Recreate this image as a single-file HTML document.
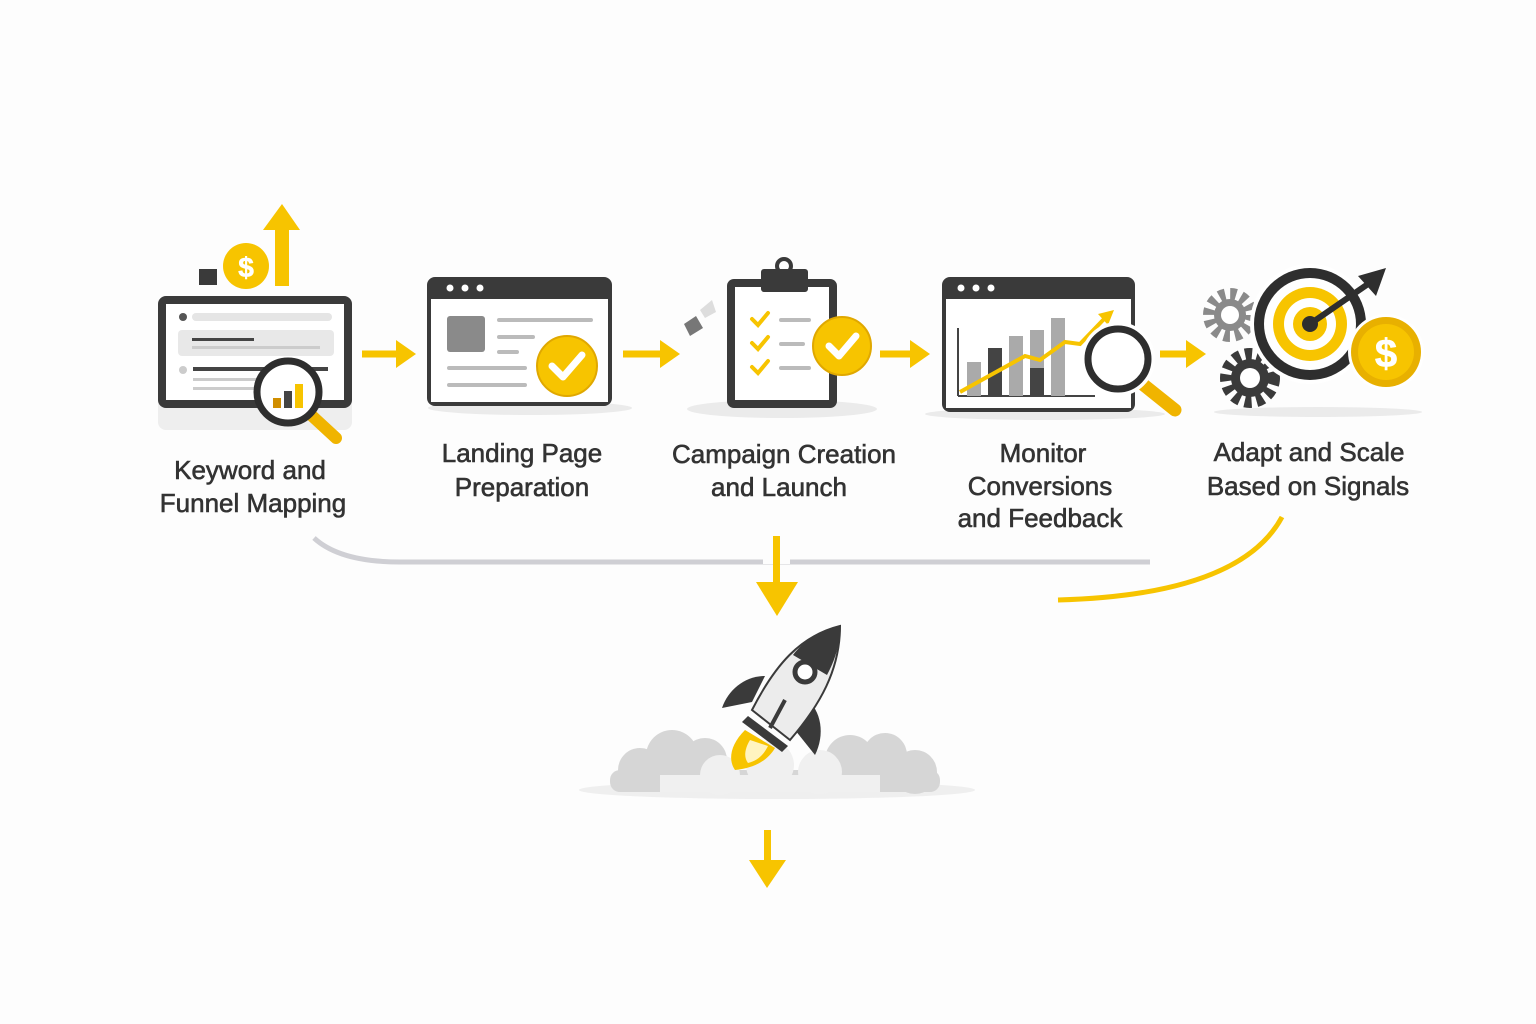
<!DOCTYPE html>
<html><head><meta charset="utf-8"><style>
html,body{margin:0;padding:0;background:#fdfdfd;}
svg{display:block}
text{font-family:"Liberation Sans",sans-serif;font-size:26px;fill:#333;stroke:#333;stroke-width:0.6px;text-anchor:middle}
</style></head><body>
<svg width="1536" height="1024" viewBox="0 0 1536 1024" xmlns="http://www.w3.org/2000/svg">
<rect width="1536" height="1024" fill="#fdfdfd"/>

<!-- Step 1 -->
<rect x="199" y="269" width="18" height="16" fill="#3a3a3a"/>
<circle cx="246" cy="266" r="23" fill="#f7c400"/>
<text x="246" y="277" style="font-size:28px;fill:#fff;stroke:#fff;font-weight:bold">$</text>
<rect x="275" y="228" width="14" height="58" fill="#f7c400"/>
<path d="M263,230 L282,204 L300,230Z" fill="#f7c400"/>
<rect x="158" y="296" width="194" height="134" rx="8" fill="#eee" />
<rect x="158" y="296" width="194" height="112" rx="8" fill="#3a3a3a"/>
<rect x="166" y="304" width="178" height="96" fill="#fff"/>
<circle cx="183" cy="317" r="4" fill="#555"/>
<rect x="192" y="313" width="140" height="8" rx="4" fill="#e5e5e5"/>
<rect x="178" y="330" width="156" height="26" rx="4" fill="#e8e8e8"/>
<rect x="192" y="338" width="62" height="3" fill="#444"/>
<rect x="192" y="346" width="128" height="3" fill="#ccc"/>
<circle cx="183" cy="370" r="4" fill="#ccc"/>
<rect x="193" y="367" width="135" height="4" fill="#444"/>
<rect x="193" y="378" width="110" height="3" fill="#ccc"/>
<rect x="193" y="387" width="110" height="3" fill="#ccc"/>
<line x1="310" y1="414" x2="336" y2="438" stroke="#f0b400" stroke-width="12" stroke-linecap="round"/>
<circle cx="288" cy="392" r="31" fill="#fff" stroke="#2e2e2e" stroke-width="7"/>
<rect x="273" y="398" width="8" height="10" fill="#d08e00"/><rect x="284" y="391" width="8" height="17" fill="#444"/><rect x="295" y="384" width="8" height="24" fill="#f7c400"/>

<!-- arrows -->
<g stroke="#f7c400" stroke-width="7" fill="#f7c400">
<line x1="362" y1="354" x2="398" y2="354"/><path d="M396,340 L416,354 L396,368Z" stroke="none"/>
<line x1="623" y1="354" x2="662" y2="354"/><path d="M660,340 L680,354 L660,368Z" stroke="none"/>
<line x1="880" y1="354" x2="912" y2="354"/><path d="M910,340 L930,354 L910,368Z" stroke="none"/>
<line x1="1160" y1="354" x2="1188" y2="354"/><path d="M1186,340 L1206,354 L1186,368Z" stroke="none"/>
</g>

<!-- Step 2 -->
<ellipse cx="530" cy="408" rx="102" ry="7" fill="#ebebeb"/>
<rect x="427" y="277" width="185" height="129" rx="8" fill="#3a3a3a"/>
<rect x="431" y="299" width="177" height="103" fill="#fff"/>
<circle cx="450" cy="288" r="3.5" fill="#fff"/><circle cx="465" cy="288" r="3.5" fill="#fff"/><circle cx="480" cy="288" r="3.5" fill="#fff"/>
<rect x="447" y="316" width="38" height="36" rx="3" fill="#8a8a8a"/>
<rect x="497" y="318" width="96" height="4" rx="2" fill="#bbb"/>
<rect x="497" y="335" width="38" height="4" rx="2" fill="#bbb"/>
<rect x="497" y="350" width="22" height="4" rx="2" fill="#bbb"/>
<rect x="447" y="366" width="80" height="4" rx="2" fill="#bbb"/>
<rect x="447" y="383" width="80" height="4" rx="2" fill="#bbb"/>
<circle cx="567" cy="366" r="30" fill="#f7c400" stroke="#e0a800" stroke-width="2"/>
<path d="M552,366 L563,377 L582,355" stroke="#fff" stroke-width="7" fill="none" stroke-linecap="round" stroke-linejoin="round"/>

<!-- Step 3 -->
<path d="M684,324 L696,316 L703,328 L690,336Z" fill="#777"/>
<path d="M700,310 L712,300 L716,312 L705,318Z" fill="#ddd"/>
<ellipse cx="782" cy="409" rx="95" ry="9" fill="#ebebeb"/>
<rect x="727" y="279" width="110" height="129" rx="7" fill="#3a3a3a"/>
<rect x="735" y="287" width="94" height="113" fill="#fff"/>
<rect x="761" y="269" width="47" height="23" rx="3" fill="#3a3a3a"/>
<circle cx="784" cy="266" r="7" fill="none" stroke="#3a3a3a" stroke-width="4"/>
<g stroke="#f7c400" stroke-width="4" fill="none" stroke-linecap="round"><path d="M752,319 L758,325 L768,313"/><path d="M752,343 L758,349 L768,337"/><path d="M752,367 L758,373 L768,361"/></g>
<g fill="#bbb"><rect x="779" y="318" width="32" height="4" rx="2"/><rect x="779" y="342" width="26" height="4" rx="2"/><rect x="779" y="366" width="32" height="4" rx="2"/></g>
<circle cx="842" cy="346" r="29" fill="#f7c400" stroke="#e0a800" stroke-width="2"/>
<path d="M829,346 L839,356 L856,336" stroke="#fff" stroke-width="7" fill="none" stroke-linecap="round" stroke-linejoin="round"/>

<!-- Step 4 -->
<ellipse cx="1045" cy="414" rx="120" ry="6" fill="#ebebeb"/>
<rect x="942" y="277" width="193" height="135" rx="8" fill="#3a3a3a"/>
<rect x="946" y="299" width="185" height="109" fill="#fff"/>
<circle cx="961" cy="288" r="3.5" fill="#fff"/><circle cx="976" cy="288" r="3.5" fill="#fff"/><circle cx="991" cy="288" r="3.5" fill="#fff"/>
<line x1="958" y1="328" x2="958" y2="396" stroke="#444" stroke-width="2"/>
<line x1="958" y1="396" x2="1095" y2="396" stroke="#444" stroke-width="2"/>
<rect x="967" y="362" width="14" height="34" fill="#aaa"/><rect x="988" y="348" width="14" height="48" fill="#444"/>
<rect x="1009" y="336" width="14" height="60" fill="#aaa"/><rect x="1030" y="330" width="14" height="66" fill="#aaa"/>
<rect x="1051" y="318" width="14" height="78" fill="#aaa"/><rect x="1030" y="368" width="14" height="28" fill="#444"/>
<polyline points="960,392 1025,356 1040,360 1065,342 1080,344 1105,318" fill="none" stroke="#f7c400" stroke-width="4"/>
<path d="M1098,314 L1114,310 L1108,325Z" fill="#f7c400"/>
<line x1="1140" y1="382" x2="1175" y2="410" stroke="#f0b400" stroke-width="13" stroke-linecap="round"/>
<circle cx="1118" cy="359" r="30" fill="#fff" stroke="#fff" stroke-width="14"/>
<circle cx="1118" cy="359" r="30" fill="#fff" stroke="#2e2e2e" stroke-width="7"/>

<!-- Step 5 -->
<ellipse cx="1318" cy="412" rx="104" ry="5" fill="#ebebeb"/>
<circle cx="1230" cy="315" r="21" fill="none" stroke="#8a8a8a" stroke-width="12" stroke-dasharray="6 5"/>
<circle cx="1230" cy="315" r="16" fill="#8a8a8a"/><circle cx="1230" cy="315" r="9" fill="#fff"/>
<circle cx="1250" cy="378" r="24" fill="none" stroke="#3a3a3a" stroke-width="12" stroke-dasharray="7 5"/>
<circle cx="1250" cy="378" r="19" fill="#3a3a3a"/><circle cx="1250" cy="378" r="10" fill="#fff"/>
<circle cx="1310" cy="324" r="60" fill="#fff"/>
<circle cx="1310" cy="324" r="56" fill="#2e2e2e"/>
<circle cx="1310" cy="324" r="46" fill="#fff"/>
<circle cx="1310" cy="324" r="37" fill="#f7c400"/>
<circle cx="1310" cy="324" r="26" fill="#fff"/>
<circle cx="1310" cy="324" r="17" fill="#f7c400"/>
<circle cx="1310" cy="324" r="8" fill="#2e2e2e"/>
<line x1="1310" y1="324" x2="1368" y2="284" stroke="#2e2e2e" stroke-width="6"/>
<path d="M1358,276 L1386,268 L1376,296Z" fill="#2e2e2e"/>
<circle cx="1386" cy="352" r="38" fill="#fff"/>
<circle cx="1386" cy="352" r="35" fill="#e8b000"/>
<circle cx="1386" cy="352" r="28" fill="#f7c400"/>
<text x="1386" y="367" style="font-size:40px;fill:#fff;stroke:#fff;font-weight:bold">$</text>

<!-- labels -->
<text x="250" y="479">Keyword and</text><text x="253" y="512">Funnel Mapping</text>
<text x="522" y="462">Landing Page</text><text x="522" y="496">Preparation</text>
<text x="784" y="463">Campaign Creation</text><text x="779" y="496">and Launch</text>
<text x="1043" y="462">Monitor</text><text x="1040" y="495">Conversions</text><text x="1040" y="527">and Feedback</text>
<text x="1309" y="461">Adapt and Scale</text><text x="1308" y="495">Based on Signals</text>

<!-- connectors -->
<path d="M314,538 Q340,562 400,562 L1150,562" fill="none" stroke="#cfcfd4" stroke-width="5"/>
<path d="M1282,517 Q1240,595 1058,600" fill="none" stroke="#f7c400" stroke-width="5"/>
<rect x="763" y="534" width="27" height="30" fill="#fdfdfd"/>
<rect x="773" y="536" width="7" height="50" fill="#f7c400"/>
<path d="M756,582 L777,616 L798,582Z" fill="#f7c400"/>
<rect x="764" y="830" width="7" height="34" fill="#f7c400"/>
<path d="M749,860 L767,888 L786,860Z" fill="#f7c400"/>

<!-- rocket -->
<ellipse cx="777" cy="790" rx="198" ry="9" fill="#efefef"/>
<g fill="#d6d6d6">
<circle cx="640" cy="770" r="22"/><circle cx="672" cy="756" r="26"/><circle cx="705" cy="760" r="22"/>
<circle cx="850" cy="760" r="25"/><circle cx="885" cy="755" r="22"/><circle cx="915" cy="772" r="22"/>
<rect x="610" y="770" width="330" height="22" rx="10"/>
</g>
<g fill="#f0f0f0"><circle cx="720" cy="775" r="20"/><circle cx="770" cy="765" r="24"/><circle cx="820" cy="772" r="22"/><rect x="660" y="775" width="220" height="17"/></g>
<path d="M745,730 C730,745 728,760 735,770 C755,768 768,760 775,748Z" fill="#f7c400"/>
<path d="M750,740 C744,750 744,758 748,763 C760,760 765,752 768,746Z" fill="#fff4c0"/>
<path d="M765,676 C745,676 728,690 722,708 L752,702Z" fill="#3a3a3a"/>
<path d="M805,698 C822,710 825,735 815,755 L795,730Z" fill="#3a3a3a"/>
<path d="M840,626 C800,636 775,665 752,710 L790,740 C820,705 840,670 840,626Z" fill="#ececec" stroke="#3a3a3a" stroke-width="2"/>
<path d="M840,626 C818,630 800,645 793,655 L827,675 C835,660 840,645 840,626Z" fill="#3a3a3a"/>
<path d="M748,716 L788,746 L782,752 L742,722Z" fill="#3a3a3a"/>
<line x1="770" y1="728" x2="785" y2="700" stroke="#3a3a3a" stroke-width="4"/>
<circle cx="805" cy="672" r="10" fill="#fff" stroke="#3a3a3a" stroke-width="5"/>
</svg>
</body></html>
